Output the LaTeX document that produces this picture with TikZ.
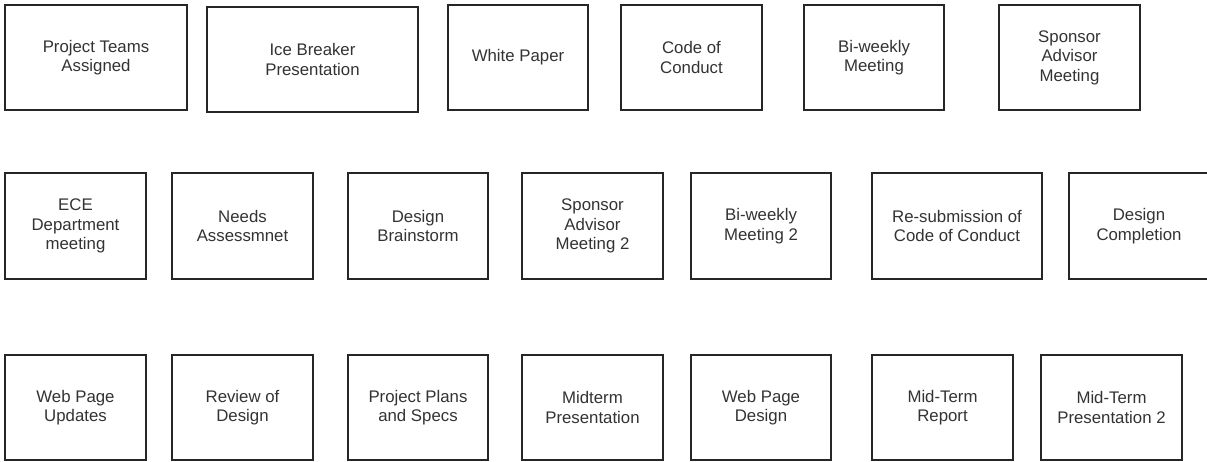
\documentclass[tikz,border=0pt]{standalone}
\usepackage{fontspec}
\setmainfont{Liberation Sans}
\begin{document}
\begin{tikzpicture}[x=1pt,y=-1pt,
  task/.style={draw=black!85, line width=2.7pt, fill=white, align=center,
    inner sep=0pt, text=black!80, font=\fontsize{16.8}{19.5}\selectfont}]
\useasboundingbox (0,0) rectangle (1207,462);
\newcommand\taskbox[6]{%
  \node[task, minimum width={#4-#2}, minimum height={#5-#3}] (#1)
    at ({(#2+#4)/2},{(#3+#5)/2}) {#6};}
% row 1
\taskbox{pta}{5}{5}{187}{110}{Project Teams\\Assigned}
\taskbox{ice}{207}{7}{418}{112}{Ice Breaker\\Presentation}
\taskbox{wp}{448}{5}{588}{110}{White Paper}
\taskbox{coc}{621}{5}{762}{110}{Code of\\Conduct}
\taskbox{bw}{804}{5}{944}{110}{Bi-weekly\\Meeting}
\taskbox{sam}{999}{5}{1140}{110}{Sponsor\\Advisor\\Meeting}
% row 2
\taskbox{ece}{5}{173}{146}{279}{ECE\\Department\\meeting}
\taskbox{na}{172}{173}{313}{279}{Needs\\Assessmnet}
\taskbox{db}{348}{173}{488}{279}{Design\\Brainstorm}
\taskbox{sam2}{522}{173}{663}{279}{Sponsor\\Advisor\\Meeting 2}
\taskbox{bw2}{691}{173}{831}{279}{Bi-weekly\\Meeting 2}
\taskbox{resub}{872}{173}{1042}{279}{Re-submission of\\Code of Conduct}
\taskbox{dc}{1069}{173}{1209}{279}{Design\\Completion}
% row 3
\taskbox{wpu}{5}{355}{146}{460}{Web Page\\Updates}
\taskbox{rod}{172}{355}{313}{460}{Review of\\Design}
\taskbox{pps}{348}{355}{488}{460}{Project Plans\\and Specs}
\taskbox{mp}{522}{355}{663}{460}{Midterm\\Presentation}
\taskbox{wpd}{691}{355}{831}{460}{Web Page\\Design}
\taskbox{mtr}{872}{355}{1013}{460}{Mid-Term\\Report}
\taskbox{mtp}{1041}{355}{1182}{460}{Mid-Term\\Presentation 2}
\end{tikzpicture}
\end{document}
